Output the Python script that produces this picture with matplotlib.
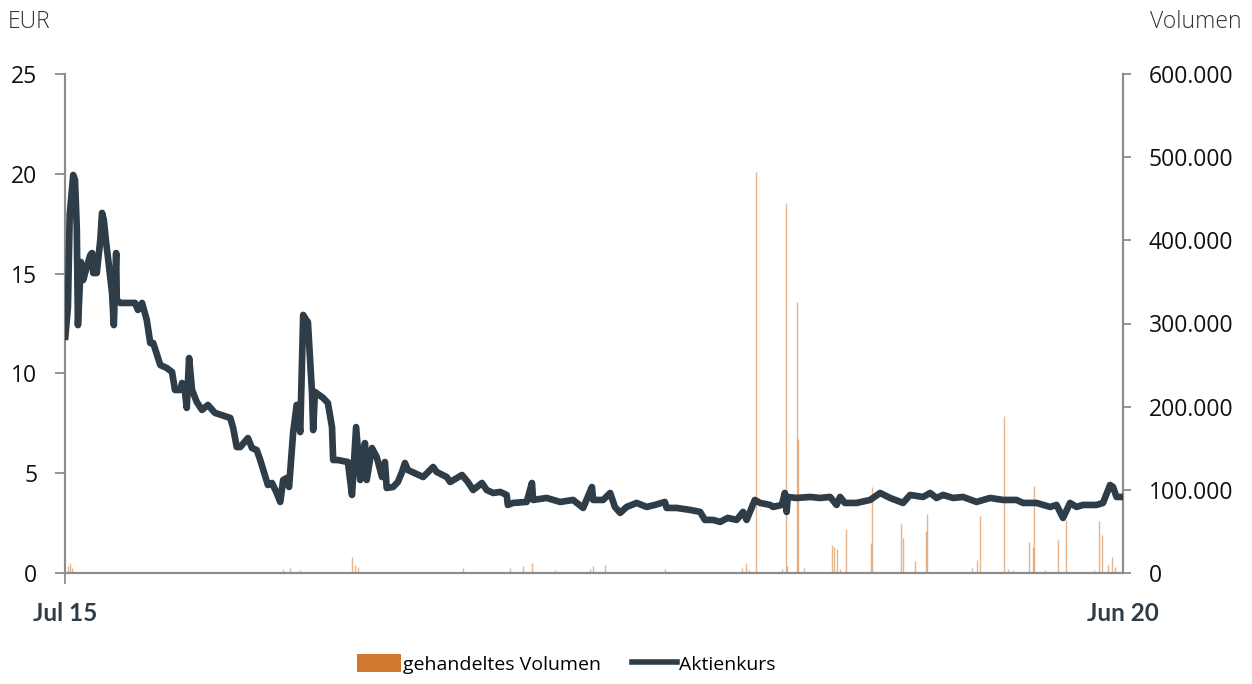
import matplotlib
matplotlib.use("Agg")
import matplotlib.pyplot as plt
import matplotlib.ticker as mticker
from matplotlib.patches import Patch
from matplotlib.lines import Line2D
import numpy as np
import pandas as pd

# ---------------- data ----------------
start_date = "2015-07-01"

# share price (EUR): day offsets from start_date and price
price_days = [0, 5, 8, 14, 17, 20, 22, 27, 31, 37, 43, 46, 48, 54, 60, 63, 66, 70, 73, 80,
              83, 87, 88, 94, 119, 124, 131, 139, 145, 150, 162, 173, 182, 187, 196, 199, 204, 207, 211, 216,
              224, 233, 243, 255, 281, 286, 292, 298, 311, 318, 326, 332, 345, 352, 360, 366, 371, 377, 381, 388,
              394, 400, 405, 410, 413, 420, 422, 425, 439, 447, 454, 456, 464, 481, 488, 495, 502, 510, 513, 522,
              530, 539, 544, 547, 558, 566, 573, 578, 583, 609, 626, 632, 649, 655, 675, 685, 694, 709, 717, 728,
              740, 751, 753, 762, 785, 794, 796, 819, 842, 864, 881, 896, 898, 915, 927, 935, 944, 955, 972, 989,
              1003, 1020, 1023, 1040, 1063, 1080, 1088, 1102, 1114, 1127, 1142, 1153, 1159, 1173, 1182, 1199, 1204, 1219, 1224, 1227,
              1229, 1244, 1267, 1284, 1301, 1312, 1318, 1326, 1346, 1369, 1386, 1403, 1425, 1437, 1459, 1471, 1482, 1493, 1510, 1527,
              1550, 1573, 1595, 1618, 1629, 1652, 1675, 1686, 1697, 1709, 1720, 1731, 1754, 1765, 1777, 1782, 1788, 1799]
price_eur = [11.67, 13.33, 17.94, 19.94, 19.69, 17.33, 12.42, 15.58, 14.68, 15.33, 15.93, 16.03, 15.03, 15.03, 16.68, 18.04, 17.69, 16.53, 15.83, 14.03,
             12.42, 16.03, 13.68, 13.53, 13.53, 13.18, 13.53, 12.68, 11.52, 11.52, 10.42, 10.27, 10.07, 9.17, 9.17, 9.52, 9.07, 8.27, 10.77, 9.17,
             8.57, 8.17, 8.42, 8.02, 7.77, 7.26, 6.31, 6.31, 6.76, 6.26, 6.16, 5.66, 4.41, 4.51, 4.01, 3.56, 4.66, 4.76, 4.31, 7.06,
             8.42, 7.06, 12.93, 12.68, 12.58, 9.02, 7.16, 9.07, 8.77, 8.52, 7.31, 5.66, 5.66, 5.56, 3.91, 7.31, 4.66, 6.51, 4.66, 6.26,
             5.81, 4.81, 5.56, 4.26, 4.31, 4.56, 5.06, 5.51, 5.16, 4.81, 5.31, 5.06, 4.81, 4.56, 4.91, 4.56, 4.16, 4.51, 4.16, 4.01,
             4.06, 3.91, 3.41, 3.51, 3.56, 4.51, 3.66, 3.76, 3.56, 3.66, 3.26, 4.31, 3.66, 3.66, 4.01, 3.31, 3.01, 3.31, 3.51, 3.31,
             3.41, 3.56, 3.26, 3.26, 3.16, 3.06, 2.66, 2.66, 2.56, 2.76, 2.66, 3.06, 2.66, 3.66, 3.51, 3.41, 3.31, 3.41, 4.01, 3.06,
             3.81, 3.76, 3.81, 3.76, 3.81, 3.41, 3.81, 3.51, 3.51, 3.66, 4.01, 3.76, 3.51, 3.91, 3.81, 4.01, 3.76, 3.91, 3.76, 3.81,
             3.56, 3.76, 3.66, 3.66, 3.51, 3.51, 3.31, 3.41, 2.76, 3.51, 3.31, 3.41, 3.41, 3.51, 4.41, 4.31, 3.81, 3.81]

# traded volume (shares): day offsets from start_date and volume
volume_days = [5, 8, 12, 371, 382, 400, 488, 493, 498, 677, 756, 779, 794, 833, 893, 898, 918, 1020,
               1151, 1158, 1163, 1175, 1219, 1226, 1227, 1244, 1246, 1256, 1304, 1307, 1312, 1318, 1328,
               1370, 1372, 1421, 1425, 1445, 1464, 1465, 1542, 1550, 1556, 1596, 1603, 1612, 1639, 1646,
               1647, 1666, 1688, 1702, 1749, 1758, 1763, 1773, 1780, 1785]
volume_shares = [8000, 12000, 6000, 5000, 6000, 4000, 19000, 10000, 7000, 6000, 6000, 8000, 12000, 4000, 5000, 9000, 10000, 5000,
                 6000, 12000, 4000, 482000, 5000, 445000, 8000, 326000, 161000, 6000, 34000, 31000, 29000, 5000, 53000,
                 36000, 103000, 59000, 42000, 14000, 50000, 71000, 6000, 16000, 68000, 189000, 5000, 4000, 37000, 31000,
                 105000, 4000, 40000, 64000, 4000, 63000, 46000, 10000, 19000, 7000]

x_tick_labels = ["Jul 15", "Jun 20"]
left_ticks = [0, 5, 10, 15, 20, 25]
right_ticks = [0, 100000, 200000, 300000, 400000, 500000, 600000]

# ---------------- styling ----------------
LINE_C = "#2E3D48"
BAR_C = "#D0782F"
SPINE_C = "#8C8C8C"

t0 = pd.Timestamp(start_date)
price_dates = t0 + pd.to_timedelta(price_days, unit="D")
volume_dates = t0 + pd.to_timedelta(volume_days, unit="D")

fig = plt.figure(figsize=(12.52, 6.84), dpi=100)
ax = fig.add_axes([65 / 1252, 1 - 573 / 684, (1123 - 65) / 1252, (573 - 74) / 684])
ax2 = ax.twinx()

# volume bars on right axis (behind)
ax2.vlines(volume_dates, 0, volume_shares, color=BAR_C, alpha=0.55, lw=1.0)
ax2.set_ylim(0, 600000)
ax2.set_yticks(right_ticks)
ax2.yaxis.set_major_formatter(mticker.FuncFormatter(lambda v, p: f"{int(v):,}".replace(",", ".")))

# price line on left axis (front)
ax.plot(price_dates, price_eur, color=LINE_C, lw=4.8, solid_joinstyle="round", solid_capstyle="butt", zorder=5)
ax.set_ylim(0, 25)
ax.set_yticks(left_ticks)
ax.set_xlim(price_dates[0], price_dates[-1])
ax.set_xticks([price_dates[0], price_dates[-1]])
ax.set_xticklabels(x_tick_labels)

ax.set_zorder(ax2.get_zorder() + 1)
ax.patch.set_visible(False)

for a in (ax, ax2):
    a.spines["top"].set_visible(False)
    for s in ("left", "right", "bottom"):
        a.spines[s].set_color(SPINE_C)
        a.spines[s].set_linewidth(1.5)

ax.tick_params(axis="y", length=7, width=1.3, color=SPINE_C, pad=13,
               labelsize=16.5, labelcolor="#111111")
ax2.tick_params(axis="y", length=5.5, width=1.3, color=SPINE_C, pad=13,
                labelsize=16.5, labelcolor="#111111")
ax.tick_params(axis="x", length=8, width=1.3, color=SPINE_C, pad=13,
               labelsize=17.5, labelcolor=LINE_C)
for lbl in ax.get_yticklabels() + ax2.get_yticklabels():
    lbl.set_fontfamily("Open Sans")
for lbl in ax.get_xticklabels():
    lbl.set_fontfamily("Lato")
    lbl.set_fontweight("bold")
ax.xaxis.get_major_ticks()[1].tick1line.set_visible(False)

# axis titles
fig.text(8 / 1252, 1 - 22 / 684, "EUR", fontsize=16.5, family="Open Sans", fontweight="light",
         color="#333333", ha="left", va="center")
fig.text(1241 / 1252, 1 - 22 / 684, "Volumen", fontsize=16.5, family="Open Sans", fontweight="light",
         color="#333333", ha="right", va="center")

# legend
handles = [Patch(facecolor=BAR_C, edgecolor="none"),
           Line2D([0], [0], color=LINE_C, lw=4.0)]
fig.legend(handles, ["gehandeltes Volumen", "Aktienkurs"], loc="center",
           bbox_to_anchor=(566 / 1252, 1 - 664 / 684), ncol=2, frameon=False,
           prop={"family": "Open Sans", "size": 14}, handlelength=2.3, handleheight=1.05,
           handletextpad=0.1, columnspacing=1.6)

fig.savefig("out.png", dpi=100)
